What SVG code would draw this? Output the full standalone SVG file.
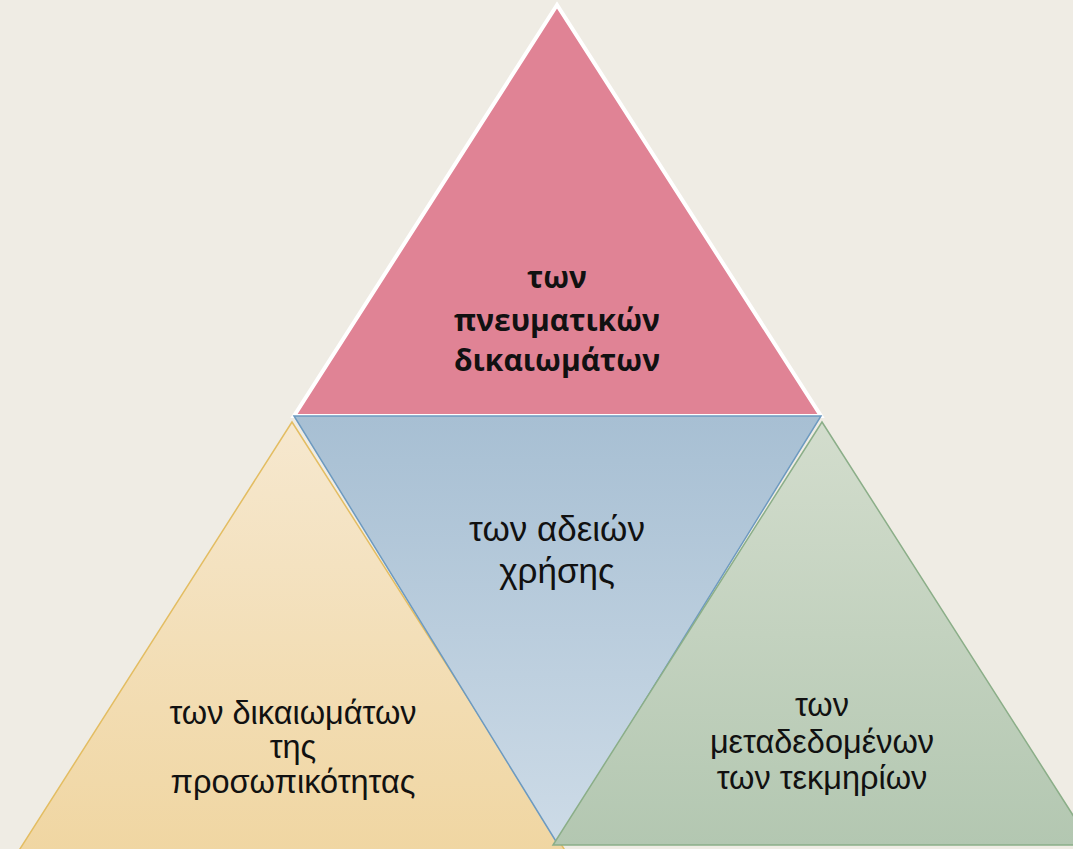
<svg xmlns="http://www.w3.org/2000/svg" width="1073" height="849" viewBox="0 0 1073 849">
<defs>
<linearGradient id="gBlue" x1="0" y1="0" x2="0" y2="1"><stop offset="0" stop-color="#A7BFD3"/><stop offset="1" stop-color="#CDDBE7"/></linearGradient>
<linearGradient id="gTan" x1="0" y1="0" x2="0" y2="1"><stop offset="0" stop-color="#F6E8CF"/><stop offset="1" stop-color="#F0D6A2"/></linearGradient>
<linearGradient id="gGreen" x1="0" y1="0" x2="0" y2="1"><stop offset="0" stop-color="#D3DDCD"/><stop offset="1" stop-color="#B3C7B1"/></linearGradient>
<style>
.t1{font-family:"Open Sans","Noto Sans",sans-serif;font-weight:700;font-size:30px;fill:#111;text-anchor:middle}
.t2{font-family:"Liberation Sans",Arial,sans-serif;font-size:32.5px;fill:#111;text-anchor:middle}
.t3{font-family:"Liberation Sans",Arial,sans-serif;font-size:35px;fill:#111;text-anchor:middle}
</style>
</defs>
<rect width="1073" height="849" fill="#EFECE4"/>
<g id="left">
<polygon points="292,422 18,852 566,852" fill="url(#gTan)" stroke="#E3BD62" stroke-width="1.5"/>
</g>
<g id="top">
<polygon points="557,5 294,416 821,416" fill="#E08395" stroke="#FFFFFF" stroke-width="4" stroke-linejoin="miter"/>
</g>
<g id="middle">
<polygon points="294,416 821,416 557,843" fill="url(#gBlue)" stroke="#6D9AC0" stroke-width="1.5"/>
</g>
<g id="right">
<polygon points="822,422 553,845 1092,845" fill="url(#gGreen)" stroke="#8BAE88" stroke-width="1.5"/>
</g>
<g id="connectors"></g>
<g id="labels">
<text class="t1" x="557" y="288">των</text>
<text class="t1" x="557" y="331">πνευματικών</text>
<text class="t1" x="557" y="371">δικαιωμάτων</text>
<text class="t3" x="557" y="541">των αδειών</text>
<text class="t3" x="557" y="583">χρήσης</text>
<text class="t2" x="293" y="724">των δικαιωμάτων</text>
<text class="t2" x="293" y="758">της</text>
<text class="t2" x="293" y="793">προσωπικότητας</text>
<text class="t2" x="822" y="716">των</text>
<text class="t2" x="822" y="753">μεταδεδομένων</text>
<text class="t2" x="822" y="789">των τεκμηρίων</text>
</g>
</svg>
